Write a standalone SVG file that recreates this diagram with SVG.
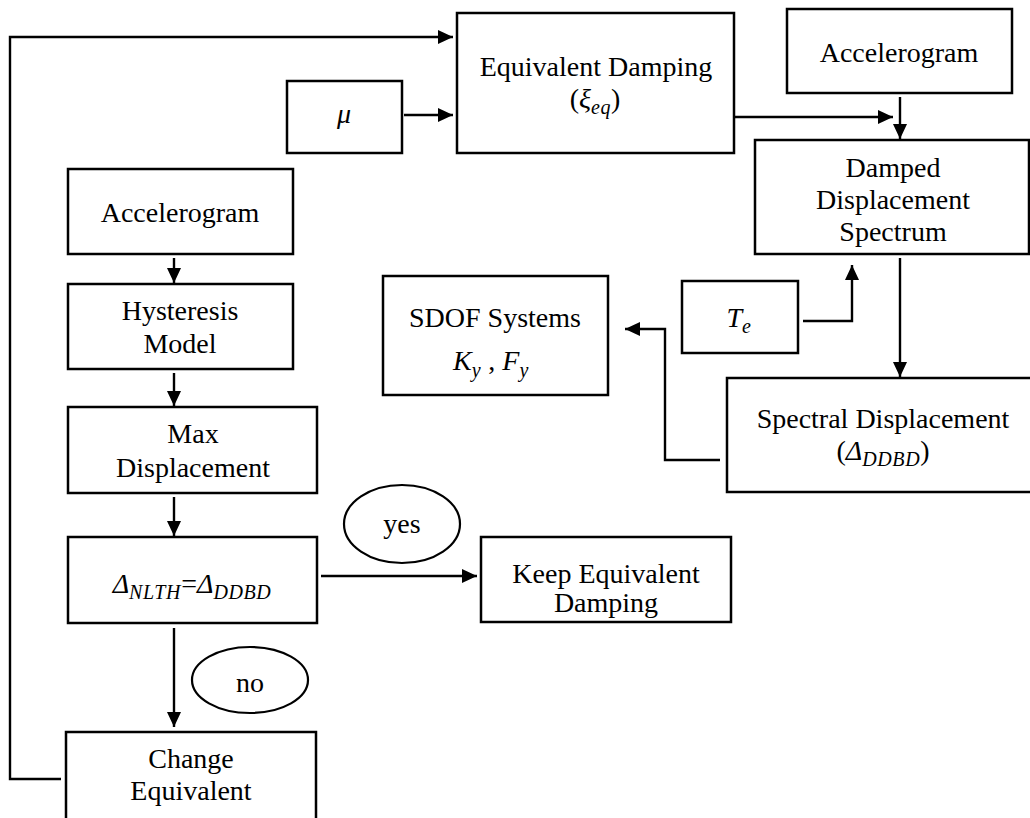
<svg xmlns="http://www.w3.org/2000/svg" width="1030" height="818" viewBox="0 0 1030 818" font-family="'Liberation Serif', 'Times New Roman', Times, serif">
<style>
.box{fill:#fff;stroke:#000;stroke-width:2.5}
.ell{fill:#fff;stroke:#000;stroke-width:2.2}
.t{font-family:'Liberation Serif', 'Times New Roman', Times, serif;font-size:28px;fill:#000;text-anchor:middle}
.m{font-style:italic}
.s{font-size:20px;font-style:italic;letter-spacing:0.6px}
.c{fill:none;stroke:#000;stroke-width:2.4}
</style>
<defs>
<marker id="ah" markerUnits="userSpaceOnUse" markerWidth="15" markerHeight="14" refX="15" refY="7" orient="auto">
<path d="M0,0 L15,7 L0,14 Z" fill="#000"/>
</marker>
</defs>
<rect width="1030" height="818" fill="#fff"/>
<g id="connectors">
<path class="c" d="M61,779 H10 V37 H453" marker-end="url(#ah)"/>
<path class="c" d="M404,115 H453" marker-end="url(#ah)"/>
<path class="c" d="M735,117 H893" marker-end="url(#ah)"/>
<path class="c" d="M900,97 V139" marker-end="url(#ah)"/>
<path class="c" d="M900,258 V377" marker-end="url(#ah)"/>
<path class="c" d="M803,321 H852 V265" marker-end="url(#ah)"/>
<path class="c" d="M720,460 H665 V329 H625" marker-end="url(#ah)"/>
<path class="c" d="M174,258 V283" marker-end="url(#ah)"/>
<path class="c" d="M174,373 V406" marker-end="url(#ah)"/>
<path class="c" d="M174,497 V536" marker-end="url(#ah)"/>
<path class="c" d="M174,628 V727" marker-end="url(#ah)"/>
<path class="c" d="M321,576 H477" marker-end="url(#ah)"/>
</g>
<g id="equivalent-damping">
<rect class="box" x="457" y="13" width="277" height="140"/>
<text class="t" x="596" y="76">Equivalent Damping</text>
<text class="t" x="595" y="108">(<tspan class="m">ξ</tspan><tspan class="s" dy="6">eq</tspan><tspan dy="-6">)</tspan></text>
</g>
<g id="mu">
<rect class="box" x="287" y="81" width="115" height="72"/>
<text class="t m" x="344" y="123">μ</text>
</g>
<g id="accelerogram-right">
<rect class="box" x="787" y="9" width="225" height="84"/>
<text class="t" x="899" y="62">Accelerogram</text>
</g>
<g id="damped-spectrum">
<rect class="box" x="755" y="140" width="274" height="114"/>
<text class="t" x="893" y="177">Damped</text>
<text class="t" x="893" y="209">Displacement</text>
<text class="t" x="893" y="241">Spectrum</text>
</g>
<g id="te">
<rect class="box" x="682" y="281" width="116" height="72"/>
<text class="t" x="739" y="327"><tspan class="m">T</tspan><tspan class="s" dy="6">e</tspan></text>
</g>
<g id="sdof">
<rect class="box" x="383" y="276" width="225" height="119"/>
<text class="t" x="495" y="327">SDOF Systems</text>
<text class="t" x="491" y="370"><tspan class="m">K</tspan><tspan class="s" dy="7">y</tspan><tspan dy="-7"> , </tspan><tspan class="m">F</tspan><tspan class="s" dy="7">y</tspan></text>
</g>
<g id="spectral-displacement">
<rect class="box" x="727" y="378" width="310" height="114"/>
<text class="t" x="883" y="428">Spectral Displacement</text>
<text class="t" x="883" y="460">(<tspan class="m">Δ</tspan><tspan class="s" dy="6">DDBD</tspan><tspan dy="-6">)</tspan></text>
</g>
<g id="accelerogram-left">
<rect class="box" x="68" y="169" width="225" height="85"/>
<text class="t" x="180" y="222">Accelerogram</text>
</g>
<g id="hysteresis">
<rect class="box" x="68" y="284" width="225" height="85"/>
<text class="t" x="180" y="320">Hysteresis</text>
<text class="t" x="180" y="353">Model</text>
</g>
<g id="max-displacement">
<rect class="box" x="68" y="407" width="249" height="86"/>
<text class="t" x="193" y="443">Max</text>
<text class="t" x="193" y="477">Displacement</text>
</g>
<g id="check">
<rect class="box" x="68" y="537" width="249" height="86"/>
<text class="t" x="192" y="593"><tspan class="m">Δ</tspan><tspan class="s" dy="6">NLTH</tspan><tspan dy="-6">=</tspan><tspan class="m">Δ</tspan><tspan class="s" dy="6">DDBD</tspan></text>
</g>
<g id="yes">
<ellipse class="ell" cx="402" cy="524" rx="58" ry="39"/>
<text class="t" x="402" y="533">yes</text>
</g>
<g id="keep">
<rect class="box" x="481" y="537" width="250" height="85"/>
<text class="t" x="606" y="583">Keep Equivalent</text>
<text class="t" x="606" y="612">Damping</text>
</g>
<g id="no">
<ellipse class="ell" cx="250" cy="680" rx="58" ry="33"/>
<text class="t" x="250" y="692">no</text>
</g>
<g id="change">
<rect class="box" x="66" y="732" width="250" height="92"/>
<text class="t" x="191" y="768">Change</text>
<text class="t" x="191" y="800">Equivalent</text>
</g>
</svg>
